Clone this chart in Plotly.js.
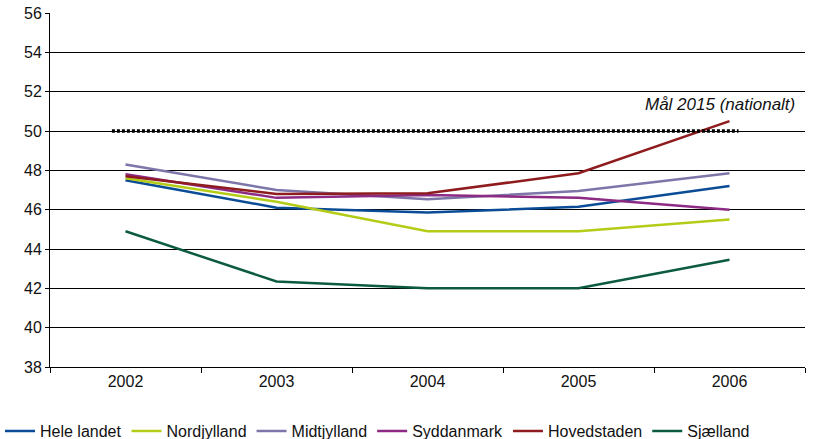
<!DOCTYPE html>
<html>
<head>
<meta charset="utf-8">
<script src="https://cdn.plot.ly/plotly-3.0.1.min.js"></script>
<style>html,body{margin:0;padding:0;background:#fff;}#chart{width:814px;height:439px;}</style>
</head>
<body>
<div id="chart"></div>
<script>
const years = ["2002", "2003", "2004", "2005", "2006"];
const heleLandet = [47.5, 46.1, 45.85, 46.15, 47.2];
const nordjylland = [47.6, 46.4, 44.9, 44.9, 45.5];
const midtjylland = [48.3, 47.0, 46.53, 46.95, 47.85];
const syddanmark = [47.8, 46.6, 46.75, 46.6, 46.0];
const hovedstaden = [47.7, 46.8, 46.83, 47.85, 50.5];
const sjaelland = [44.9, 42.35, 42.0, 42.0, 43.45];
const target = 50;
const targetLabel = "Mål 2015 (nationalt)";
const yTicks = [38, 40, 42, 44, 46, 48, 50, 52, 54, 56];

const series = [
  {name: "Hele landet", y: heleLandet, color: "#0b4c97"},
  {name: "Nordjylland", y: nordjylland, color: "#b4cc17"},
  {name: "Midtjylland", y: midtjylland, color: "#7c76a9"},
  {name: "Syddanmark", y: syddanmark, color: "#8c2a84"},
  {name: "Hovedstaden", y: hovedstaden, color: "#8e1b1e"},
  {name: "Sjælland", y: sjaelland, color: "#0c5b3e"}
];

const traces = series.map(s => ({
  type: "scatter", mode: "lines", name: s.name, x: years, y: s.y,
  line: {color: s.color, width: 2.5}, hoverinfo: "x+y+name"
}));

const layout = {
  width: 814, height: 439,
  margin: {l: 50, r: 9, t: 13, b: 72},
  paper_bgcolor: "#fff", plot_bgcolor: "#fff",
  font: {family: "Liberation Sans, Arial, sans-serif", size: 16, color: "#111"},
  showlegend: true,
  legend: {orientation: "h", xref: "container", yref: "container", x: 0, xanchor: "left",
    y: 0.018, yanchor: "middle", font: {size: 16, color: "#111"}, itemwidth: 30, tracegroupgap: 0},
  xaxis: {type: "category", showgrid: false, showline: true, linecolor: "#000", linewidth: 1,
    ticks: "outside", ticklen: 5, tickcolor: "#000", tickson: "boundaries",
    range: [-0.5, 4.5], zeroline: false, fixedrange: true, automargin: false},
  yaxis: {range: [38, 56], tickvals: yTicks, ticktext: yTicks.map(String),
    showgrid: true, gridcolor: "#000", gridwidth: 1, showline: true, linecolor: "#000", linewidth: 1,
    ticks: "outside", ticklen: 4, tickcolor: "#000", zeroline: false, fixedrange: true, automargin: false},
  shapes: [{type: "line", xref: "x", yref: "y", x0: -0.09, x1: 4.06, y0: target, y1: target,
    line: {color: "#000", width: 3.5, dash: "3px,2px"}}],
  annotations: [{xref: "paper", yref: "y", x: 0.99, y: target + 1.35, xanchor: "right", yanchor: "middle",
    text: "<i>" + targetLabel + "</i>", showarrow: false, font: {size: 17, color: "#111"}}]
};

Plotly.newPlot("chart", traces, layout, {displayModeBar: false, staticPlot: true});
</script>
</body>
</html>
